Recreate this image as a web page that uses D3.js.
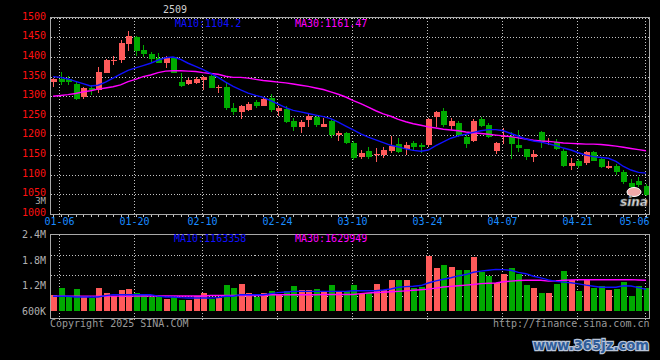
<!DOCTYPE html>
<html>
<head>
<meta charset="utf-8">
<script src="https://cdn.jsdelivr.net/npm/d3@7"></script>
<style>
body { margin: 0; background: #000; }
svg { display: block; }
text { font-family: "DejaVu Sans Mono", monospace; font-size: 10px; }
</style>
</head>
<body>
<div id="chart"></div>
<script>
// Data (daily K line, 80 sessions)
var dates = ["01-03","01-06","01-07","01-08","01-09","01-10","01-13","01-14","01-15","01-16","01-17",
    "01-20","01-21","01-22","01-23","01-24","01-27","02-05","02-06","02-07",
    "02-10","02-11","02-12","02-13","02-14","02-17","02-18","02-19","02-20","02-21",
    "02-24","02-25","02-26","02-27","02-28","03-03","03-04","03-05","03-06","03-07",
    "03-10","03-11","03-12","03-13","03-14","03-17","03-18","03-19","03-20","03-21",
    "03-24","03-25","03-26","03-27","03-28","03-31","04-01","04-02","04-03","04-04",
    "04-07","04-08","04-09","04-10","04-11","04-14","04-15","04-16","04-17","04-18",
    "04-21","04-22","04-23","04-24","04-25","04-28","04-29","04-30","05-02","05-06"];

var openPrice = [1336,1345,1343,1331,1297,1322,1316,1360,1389,1392,1433,1452,1418,1408,1397,1384,1399,1337,1331,1333,
    1341,1351,1320,1324,1269,1261,1265,1285,1276,1295,1262,1267,1237,1221,1239,1248,1222,1237,1201,1206,
    1182,1146,1161,1150,1150,1161,1178,1166,1181,1176,1176,1246,1262,1225,1233,1197,1186,1241,1227,1161,
    1195,1195,1176,1166,1146,1210,1183,1184,1161,1122,1136,1129,1159,1139,1117,1122,1107,1080,1084,1071];
var highPrice = [1346,1362,1352,1339,1323,1329,1375,1394,1402,1442,1466,1453,1430,1413,1411,1402,1401,1360,1346,1348,
    1351,1355,1329,1337,1282,1278,1286,1290,1299,1306,1274,1274,1244,1239,1255,1252,1244,1241,1212,1209,
    1187,1163,1171,1167,1170,1199,1193,1184,1186,1182,1244,1262,1269,1244,1238,1201,1241,1247,1233,1184,
    1218,1210,1214,1166,1163,1212,1193,1190,1165,1142,1139,1161,1160,1146,1135,1127,1112,1089,1094,1076];
var lowPrice = [1323,1328,1328,1290,1292,1303,1309,1358,1380,1384,1416,1402,1401,1387,1384,1371,1358,1324,1329,1331,
    1315,1320,1307,1265,1252,1242,1262,1271,1276,1261,1250,1232,1212,1207,1221,1221,1221,1194,1187,1178,
    1138,1139,1139,1133,1142,1155,1155,1150,1163,1155,1171,1222,1222,1214,1197,1167,1184,1222,1193,1153,
    1179,1140,1159,1138,1133,1169,1176,1163,1119,1111,1116,1125,1134,1116,1114,1099,1076,1061,1070,1047];
var closePrice = [1345,1336,1335,1293,1321,1316,1362,1392,1392,1436,1453,1416,1408,1396,1385,1399,1360,1326,1341,1343,
    1350,1322,1324,1269,1261,1274,1279,1274,1292,1265,1271,1235,1221,1235,1250,1227,1229,1201,1207,1182,
    1142,1155,1146,1153,1163,1173,1159,1175,1171,1171,1241,1261,1227,1237,1201,1178,1238,1225,1197,1182,
    1199,1178,1167,1144,1153,1184,1186,1166,1121,1131,1123,1159,1136,1119,1122,1107,1082,1068,1073,1048];

var ma10Price = [1350,1348,1344,1338,1332,1326,1328,1336,1346,1356,1366,1372,1378,1384,1392,1398,1400,1394,1384,1376,
    1368,1358,1348,1336,1325,1316,1308,1302,1297,1289,1280,1271,1264,1260,1256,1252,1248,1243,1234,1224,
    1214,1204,1196,1189,1182,1175,1171,1166,1162,1160,1163,1174,1184,1193,1199,1203,1208,1212,1215,1215,
    1212,1205,1198,1191,1186,1183,1179,1174,1168,1163,1156,1150,1146,1144,1142,1134,1121,1112,1106,1104];
var ma30Price = [1300,1302,1304,1307,1311,1314,1318,1321,1324,1329,1337,1343,1350,1354,1360,1364,1365,1365,1364,1363,
    1360,1358,1356,1351,1348,1348,1346,1343,1340,1338,1336,1334,1331,1328,1325,1321,1317,1311,1305,1298,
    1289,1281,1272,1263,1255,1249,1241,1235,1230,1226,1222,1219,1216,1214,1212,1209,1207,1205,1203,1201,
    1199,1197,1194,1191,1188,1186,1185,1183,1181,1180,1179,1178,1178,1177,1175,1173,1170,1167,1164,1161];

// volumes in thousands
var volume = [985,1143,947,1119,947,907,1143,1025,947,1095,
    1119,1025,985,930,930,883,923,867,867,962,
    1025,883,907,1213,1143,1237,1025,930,1017,1072,
    985,1064,1190,1095,1088,1119,1072,1213,1048,1064,
    1213,1001,1025,1237,1095,1331,1331,1331,1143,1159,
    1905,1614,1685,1638,1567,1567,1874,1520,1433,1261,
    1473,1614,1473,1213,1143,1025,1025,1237,1544,1339,
    1072,1339,1143,1182,1095,1119,1284,954,1190,1143];
var ma10Volume = [947,947,947,930,930,930,930,962,985,985,
    985,985,985,985,950,930,930,915,907,907,
    907,907,915,947,947,985,985,985,985,1009,
    1033,1048,1064,1064,1064,1064,1064,1064,1064,1064,
    1079,1079,1079,1079,1095,1119,1159,1175,1185,1200,
    1260,1310,1350,1385,1430,1460,1515,1540,1560,1583,
    1575,1560,1510,1480,1420,1380,1335,1300,1280,1265,
    1240,1210,1185,1160,1160,1160,1195,1190,1150,1110];
var ma30Volume = [950,950,950,950,950,950,950,950,950,950,
    950,955,955,955,955,955,955,955,955,955,
    955,965,965,965,965,965,965,965,965,985,
    985,985,985,985,985,985,990,990,990,990,
    990,1010,1025,1035,1043,1055,1064,1075,1088,1100,
    1115,1140,1165,1180,1195,1210,1225,1245,1255,1260,
    1290,1305,1320,1324,1324,1324,1305,1310,1324,1330,
    1339,1339,1339,1339,1339,1339,1339,1339,1330,1324];

var priceTicks = [1000,1050,1100,1150,1200,1250,1300,1350,1400,1450,1500];
var volumeTicks = [600000, 1200000, 1800000, 2400000];
var volumeTickLabels = ["600K", "1.2M", "1.8M", "2.4M"];
var dateTicks = ["01-06","01-20","02-10","02-24","03-10","03-24","04-07","04-21","05-06"];

var priceLegend = ["MA10:1104.2", "MA30:1161.47"];
var volumeLegend = ["MA10:1163358", "MA30:1629949"];

var svgWidth = 660;
var svgHeight = 360;

// panel boxes
var left = 50.5, right = 649.5;
var priceTop = 17.5, priceBottom = 214;
var volTop = 234.5, volBottom = 318;

var upColor = "#ff5a5a";
var downColor = "#00aa00";
var gridColor = "#c4c4c4";
var frameColor = "#a8a8a8";

var svg = d3.select("#chart")
    .append("svg")
    .attr("width", svgWidth)
    .attr("height", svgHeight)
    .style("background", "#000");

// scales
var xScale = d3.scalePoint().domain(dates).range([53, 646]);
var yPrice = d3.scaleLinear().domain([1000, 1500]).range([214, 17.7]);
var yVolume = d3.scaleLinear().domain([600000, 2400000]).range([311, 234.7]);

function px(v) { return Math.round(v) + 0.5; }
function gridX(d) { return px(xScale(d) - 1.5); }

// ---- grid ----
var grid = svg.append("g").attr("stroke", gridColor).attr("stroke-dasharray", "1,2").attr("shape-rendering", "crispEdges");

grid.selectAll(".hgrid")
    .data(priceTicks)
    .enter()
    .append("line")
    .attr("x1", left).attr("x2", right)
    .attr("y1", d => px(yPrice(d))).attr("y2", d => px(yPrice(d)));

grid.selectAll(".vgrid")
    .data(dateTicks)
    .enter()
    .append("line")
    .attr("x1", gridX).attr("x2", gridX)
    .attr("y1", priceTop).attr("y2", priceBottom + 3);

grid.selectAll(".vgrid2")
    .data(dateTicks)
    .enter()
    .append("line")
    .attr("x1", gridX).attr("x2", gridX)
    .attr("y1", volTop).attr("y2", volBottom + 3);

// volume panel horizontal lines at quarters
grid.selectAll(".vhgrid")
    .data([1, 2, 3])
    .enter()
    .append("line")
    .attr("x1", left).attr("x2", right)
    .attr("y1", d => px(volTop + (volBottom - 2 - volTop) * d / 4))
    .attr("y2", d => px(volTop + (volBottom - 2 - volTop) * d / 4));

// small ticks under the price panel, one per session
svg.append("g")
    .attr("stroke", gridColor)
    .attr("shape-rendering", "crispEdges")
    .selectAll("line")
    .data(dates)
    .enter()
    .append("line")
    .attr("x1", d => px(xScale(d))).attr("x2", d => px(xScale(d)))
    .attr("y1", priceBottom + 1).attr("y2", priceBottom + 2.5);

// ---- candles ----
var candles = svg.append("g").attr("shape-rendering", "crispEdges");
var candleGroup = candles.selectAll("g")
    .data(dates)
    .enter()
    .append("g")
    .attr("fill", (d, i) => closePrice[i] >= openPrice[i] ? upColor : downColor)
    .attr("stroke", (d, i) => closePrice[i] >= openPrice[i] ? upColor : downColor);

candleGroup.append("line")
    .attr("x1", d => px(xScale(d))).attr("x2", d => px(xScale(d)))
    .attr("y1", (d, i) => yPrice(highPrice[i]))
    .attr("y2", (d, i) => yPrice(lowPrice[i]));

candleGroup.append("rect")
    .attr("stroke", "none")
    .attr("x", d => Math.round(xScale(d)) - 2)
    .attr("width", 6)
    .attr("y", (d, i) => yPrice(Math.max(openPrice[i], closePrice[i])))
    .attr("height", (d, i) => Math.max(1, Math.abs(yPrice(openPrice[i]) - yPrice(closePrice[i]))));

// ---- price moving averages ----
var priceLine = d3.line()
    .x((d, i) => xScale(dates[i]))
    .y(d => yPrice(d));

svg.append("path")
    .attr("d", priceLine(ma30Price))
    .attr("fill", "none")
    .attr("stroke", "#ff00ff")
    .attr("stroke-width", 1.4);

svg.append("path")
    .attr("d", priceLine(ma10Price))
    .attr("fill", "none")
    .attr("stroke", "#1010ff")
    .attr("stroke-width", 1.4);

// ---- volume bars ----
svg.append("g")
    .attr("shape-rendering", "crispEdges")
    .selectAll("rect")
    .data(volume)
    .enter()
    .append("rect")
    .attr("x", (d, i) => Math.round(xScale(dates[i])) - 2)
    .attr("width", 6)
    .attr("y", d => yVolume(d * 1000))
    .attr("height", d => yVolume(600000) - yVolume(d * 1000))
    .attr("fill", (d, i) => closePrice[i] >= openPrice[i] ? upColor : downColor);

var volumeLine = d3.line()
    .x((d, i) => xScale(dates[i]))
    .y(d => yVolume(d * 1000));

svg.append("path")
    .attr("d", volumeLine(ma30Volume))
    .attr("fill", "none")
    .attr("stroke", "#ff00ff")
    .attr("stroke-width", 1.4);

svg.append("path")
    .attr("d", volumeLine(ma10Volume))
    .attr("fill", "none")
    .attr("stroke", "#1010ff")
    .attr("stroke-width", 1.4);

// ---- frames ----
svg.append("rect")
    .attr("x", left).attr("y", priceTop)
    .attr("width", right - left).attr("height", priceBottom - priceTop)
    .attr("fill", "none").attr("stroke", frameColor)
    .attr("shape-rendering", "crispEdges");

svg.append("rect")
    .attr("x", left).attr("y", volTop)
    .attr("width", right - left).attr("height", volBottom - volTop)
    .attr("fill", "none").attr("stroke", frameColor)
    .attr("shape-rendering", "crispEdges");

// ---- axis labels ----
svg.append("g")
    .selectAll("text")
    .data(priceTicks)
    .enter()
    .append("text")
    .attr("x", 46)
    .attr("y", d => yPrice(d) - 1.5)
    .attr("dy", "0.35em")
    .attr("text-anchor", "end")
    .attr("fill", "#ff1010")
    .text(d => d);

svg.append("g")
    .selectAll("text")
    .data(dateTicks)
    .enter()
    .append("text")
    .attr("x", (d, i) => i === dateTicks.length - 1 ? right : gridX(d))
    .attr("y", 221.5)
    .attr("dy", "0.35em")
    .attr("text-anchor", (d, i) => i === dateTicks.length - 1 ? "end" : "middle")
    .attr("fill", "#1a8cff")
    .text(d => d);

svg.append("g")
    .selectAll("text")
    .data(volumeTicks)
    .enter()
    .append("text")
    .attr("x", 46)
    .attr("y", d => yVolume(d))
    .attr("dy", "0.35em")
    .attr("text-anchor", "end")
    .attr("fill", "#b0b0b0")
    .text((d, i) => volumeTickLabels[i]);

// leftover volume label squeezed between the lowest price labels
svg.append("text")
    .attr("x", 46).attr("y", 201).attr("dy", "0.35em")
    .attr("text-anchor", "end")
    .style("font-size", "9px")
    .attr("fill", "#b0b0b0")
    .text("3M");

// ---- legends and titles ----
svg.append("text").attr("x", 163).attr("y", 9.5).attr("dy", "0.35em")
    .attr("fill", "#d0d0d0").text("2509");

svg.append("text").attr("x", 175).attr("y", 23.5).attr("dy", "0.35em")
    .attr("fill", "#1010ff").text(priceLegend[0]);
svg.append("text").attr("x", 295).attr("y", 23.5).attr("dy", "0.35em")
    .attr("fill", "#ff00ff").text(priceLegend[1]);

svg.append("text").attr("x", 174).attr("y", 238.5).attr("dy", "0.35em")
    .attr("fill", "#1010ff").text(volumeLegend[0]);
svg.append("text").attr("x", 295).attr("y", 238.5).attr("dy", "0.35em")
    .attr("fill", "#ff00ff").text(volumeLegend[1]);

svg.append("text").attr("x", 50).attr("y", 323.5).attr("dy", "0.35em")
    .attr("fill", "#9a9a9a").text("Copyright 2025 SINA.COM");
svg.append("text").attr("x", right).attr("y", 323.5).attr("dy", "0.35em")
    .attr("text-anchor", "end")
    .attr("fill", "#9a9a9a").text("http://finance.sina.com.cn");

// sina logo in the corner of the price panel
svg.append("ellipse")
    .attr("cx", 634).attr("cy", 192).attr("rx", 7).attr("ry", 4.5)
    .attr("fill", "#f2a8a8").attr("stroke", "#fff").attr("stroke-width", 1);
svg.append("text")
    .attr("x", 620).attr("y", 206)
    .style("font-family", "DejaVu Sans")
    .style("font-size", "12px")
    .style("font-weight", "bold")
    .style("font-style", "italic")
    .attr("fill", "#e0e0e0")
    .attr("stroke", "#666").attr("stroke-width", 0.6)
    .text("sina");

// site watermark
svg.append("text")
    .attr("x", 533).attr("y", 350)
    .attr("textLength", 116)
    .attr("lengthAdjust", "spacingAndGlyphs")
    .style("font-family", "DejaVu Sans")
    .style("font-size", "14px")
    .style("font-weight", "bold")
    .attr("fill", "#2f5d9a")
    .attr("stroke", "#b8c4d8")
    .attr("stroke-width", 2.5)
    .attr("paint-order", "stroke")
    .text("www.365jz.com");
</script>
</body>
</html>
